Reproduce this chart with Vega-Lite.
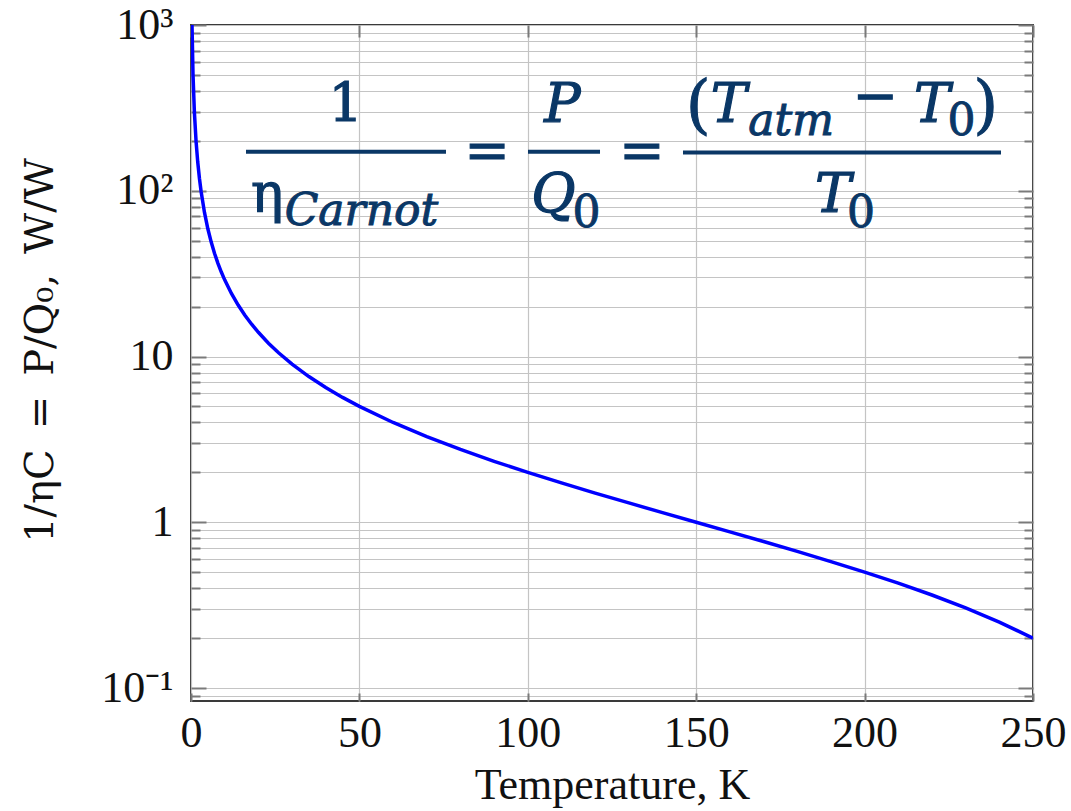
{
  "$schema": "https://vega.github.io/schema/vega-lite/v6.json",
  "width": 842,
  "height": 676,
  "autosize": {"type": "none"},
  "padding": {"left": 191, "top": 25, "right": 38, "bottom": 110},
  "background": "white",
  "config": {
    "view": {"stroke": "#3a3a3a", "strokeWidth": 2},
    "font": "Liberation Serif",
    "axis": {"titleFont": "Liberation Serif", "labelFont": "Liberation Serif"}
  },
  "datasets": {
    "curve": [
      {"T": 0.3, "v": 999}, {"T": 0.6, "v": 499}, {"T": 1, "v": 299}, {"T": 1.5, "v": 199},
      {"T": 2, "v": 149}, {"T": 2.5, "v": 119}, {"T": 3, "v": 99}, {"T": 4, "v": 74},
      {"T": 5, "v": 59}, {"T": 6, "v": 49}, {"T": 7, "v": 41.86}, {"T": 8, "v": 36.5},
      {"T": 9, "v": 32.33}, {"T": 10, "v": 29}, {"T": 12, "v": 24}, {"T": 14, "v": 20.43},
      {"T": 16, "v": 17.75}, {"T": 18, "v": 15.67}, {"T": 20, "v": 14}, {"T": 23, "v": 12.04},
      {"T": 26, "v": 10.54}, {"T": 30, "v": 9}, {"T": 35, "v": 7.571}, {"T": 40, "v": 6.5},
      {"T": 45, "v": 5.667}, {"T": 50, "v": 5}, {"T": 60, "v": 4}, {"T": 70, "v": 3.286},
      {"T": 80, "v": 2.75}, {"T": 90, "v": 2.333}, {"T": 100, "v": 2}, {"T": 110, "v": 1.727},
      {"T": 120, "v": 1.5}, {"T": 130, "v": 1.308}, {"T": 140, "v": 1.143}, {"T": 150, "v": 1},
      {"T": 160, "v": 0.875}, {"T": 170, "v": 0.765}, {"T": 180, "v": 0.667}, {"T": 190, "v": 0.579},
      {"T": 200, "v": 0.5}, {"T": 210, "v": 0.429}, {"T": 220, "v": 0.364}, {"T": 230, "v": 0.304},
      {"T": 240, "v": 0.25}, {"T": 250, "v": 0.2}
    ],
    "upright": [
      {"s": "1", "T": 45.9, "v": 260},
      {"s": "η", "T": 22.6, "v": 74.4},
      {"s": "=", "T": 87.9, "v": 135},
      {"s": "=", "T": 133.9, "v": 135},
      {"s": "−", "T": 203.1, "v": 290}
    ],
    "paren": [
      {"s": "(", "T": 150.6, "v": 246},
      {"s": ")", "T": 236.0, "v": 246}
    ],
    "italic": [
      {"s": "P", "T": 110.3, "v": 260},
      {"s": "Q", "T": 107.6, "v": 74.4},
      {"s": "T", "T": 159.7, "v": 260},
      {"s": "T", "T": 220.0, "v": 260},
      {"s": "T", "T": 190.6, "v": 74.4}
    ],
    "subItalic": [
      {"s": "Carnot", "T": 50.6, "v": 62.1},
      {"s": "atm", "T": 178.2, "v": 216.9}
    ],
    "subUpright": [
      {"s": "0", "T": 117.4, "v": 60.4},
      {"s": "0", "T": 228.8, "v": 216.9},
      {"s": "0", "T": 198.9, "v": 60.4}
    ],
    "bars": [
      {"T": 16.33, "T2": 75.71, "v": 172},
      {"T": 100.06, "T2": 121.44, "v": 172},
      {"T": 146.08, "T2": 240.5, "v": 170}
    ]
  },
  "encoding": {
    "x": {"field": "T", "type": "quantitative", "axis": null}
  },
  "layer": [
    {
      "data": {"name": "curve"},
      "mark": {"type": "line", "color": "#0000ff", "strokeWidth": 3.5, "clip": true},
      "encoding": {
        "x": {
          "field": "T", "type": "quantitative",
          "scale": {"domain": [0, 250], "nice": false, "zero": false},
          "axis": {
            "orient": "bottom",
            "values": [0, 50, 100, 150, 200, 250],
            "format": "d",
            "title": "Temperature, K",
            "titleFont": "Liberation Serif", "titleFontSize": 44, "titleFontWeight": "normal", "titleColor": "#111",
            "titlePadding": 8,
            "labelFont": "Liberation Serif", "labelFontSize": 44, "labelColor": "#111",
            "labelPadding": 18, "labelFlush": false,
            "tickSize": -8, "tickColor": "#7a7a7a", "tickWidth": 2,
            "grid": true, "gridColor": "#c4c4c4", "gridWidth": 1.2,
            "domain": false
          }
        },
        "y": {
          "field": "v", "type": "quantitative",
          "scale": {"type": "log", "domain": [0.0835, 1000], "nice": false},
          "axis": {
            "orient": "left",
            "values": [0.09, 0.1, 0.2, 0.3, 0.4, 0.5, 0.6, 0.7, 0.8, 0.9, 1, 2, 3, 4, 5, 6, 7, 8, 9, 10, 20, 30, 40, 50, 60, 70, 80, 90, 100, 200, 300, 400, 500, 600, 700, 800, 900, 1000],
            "labelExpr": "datum.value == 1000 ? '10³' : datum.value == 100 ? '10²' : datum.value == 10 ? '10' : datum.value == 1 ? '1' : datum.value == 0.1 ? '10⁻¹' : ''",
            "labelOverlap": false, "labelFlush": false,
            "labelFont": "Liberation Serif", "labelFontSize": 44, "labelColor": "#111",
            "labelPadding": 33, "labelBaseline": "middle",
            "title": "1/ηC\u2002=\u2002P/Q₀,\u2002W/W",
            "titleFont": "DejaVu Serif", "titleFontSize": 40, "titleFontWeight": "normal", "titleColor": "#111",
            "titlePadding": 40, "titleY": 325,
            "tickSize": {"condition": {"test": "datum.value == 0.1 || datum.value == 1 || datum.value == 10 || datum.value == 100 || datum.value == 1000", "value": -15}, "value": -9},
            "tickColor": "#7a7a7a", "tickWidth": 2,
            "grid": true, "gridColor": "#c4c4c4", "gridWidth": 1.2,
            "domain": false
          }
        }
      }
    },
    {
      "data": {"name": "bars"},
      "mark": {"type": "rule", "color": "#0a3766", "strokeWidth": 4},
      "encoding": {
        "x": {
          "field": "T", "type": "quantitative",
          "axis": {
            "orient": "top",
            "values": [0, 50, 100, 150, 200, 250],
            "labels": false, "title": null, "grid": false, "domain": false,
            "tickSize": -12, "tickColor": "#7a7a7a", "tickWidth": 2
          }
        },
        "x2": {"field": "T2"},
        "y": {
          "field": "v", "type": "quantitative",
          "axis": {
            "orient": "right",
            "values": [0.09, 0.1, 0.2, 0.3, 0.4, 0.5, 0.6, 0.7, 0.8, 0.9, 1, 2, 3, 4, 5, 6, 7, 8, 9, 10, 20, 30, 40, 50, 60, 70, 80, 90, 100, 200, 300, 400, 500, 600, 700, 800, 900, 1000],
            "labels": false, "title": null, "grid": false, "domain": false,
            "tickSize": {"condition": {"test": "datum.value == 0.1 || datum.value == 1 || datum.value == 10 || datum.value == 100 || datum.value == 1000", "value": -15}, "value": -9},
            "tickColor": "#7a7a7a", "tickWidth": 2
          }
        }
      }
    },
    {
      "data": {"name": "upright"},
      "mark": {"type": "text", "font": "DejaVu Serif", "fontSize": 54, "color": "#0a3766", "stroke": "#0a3766", "strokeWidth": 1.2, "align": "center", "baseline": "alphabetic"},
      "encoding": {
        "y": {"field": "v", "type": "quantitative", "axis": null},
        "text": {"field": "s"}
      }
    },
    {
      "data": {"name": "paren"},
      "mark": {"type": "text", "font": "DejaVu Serif", "fontSize": 64, "color": "#0a3766", "stroke": "#0a3766", "strokeWidth": 1, "align": "center", "baseline": "alphabetic"},
      "encoding": {
        "y": {"field": "v", "type": "quantitative", "axis": null},
        "text": {"field": "s"}
      }
    },
    {
      "data": {"name": "italic"},
      "mark": {"type": "text", "font": "DejaVu Serif", "fontSize": 54, "fontStyle": "italic", "color": "#0a3766", "stroke": "#0a3766", "strokeWidth": 1.2, "align": "center", "baseline": "alphabetic"},
      "encoding": {
        "y": {"field": "v", "type": "quantitative", "axis": null},
        "text": {"field": "s"}
      }
    },
    {
      "data": {"name": "subItalic"},
      "mark": {"type": "text", "font": "DejaVu Serif", "fontSize": 44, "fontStyle": "italic", "color": "#0a3766", "stroke": "#0a3766", "strokeWidth": 1, "align": "center", "baseline": "alphabetic"},
      "encoding": {
        "y": {"field": "v", "type": "quantitative", "axis": null},
        "text": {"field": "s"}
      }
    },
    {
      "data": {"name": "subUpright"},
      "mark": {"type": "text", "font": "DejaVu Serif", "fontSize": 44, "color": "#0a3766", "stroke": "#0a3766", "strokeWidth": 1, "align": "center", "baseline": "alphabetic"},
      "encoding": {
        "y": {"field": "v", "type": "quantitative", "axis": null},
        "text": {"field": "s"}
      }
    }
  ],
  "resolve": {"axis": {"x": "independent", "y": "independent"}}
}
